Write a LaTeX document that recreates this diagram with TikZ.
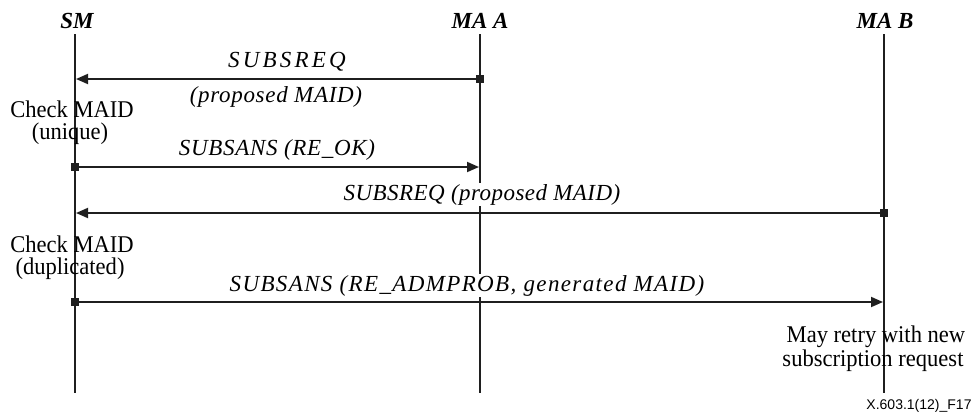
\documentclass[tikz,border=0pt]{standalone}
\usepackage{fontspec}
\setmainfont{Liberation Serif}
\newfontfamily\notefont[FakeStretch=0.94]{Liberation Serif}
\newfontfamily\figsans{Liberation Sans}
\usetikzlibrary{arrows.meta}
\newcommand{\lsp}[2]{{\addfontfeature{LetterSpace=#1}#2}}
\begin{document}
\begin{tikzpicture}[x=1pt,y=-1pt,
  life/.style={line width=2pt,draw=black!88},
  msg/.style={line width=1.8pt,draw=black!88,-{Triangle[length=12pt,width=10pt]}},
  sq/.style={fill=black!88,minimum size=8pt,inner sep=0pt,draw=none,rectangle},
  hdr/.style={font=\fontsize{23}{25}\selectfont\bfseries\itshape,anchor=base,inner sep=0pt},
  lbl/.style={font=\fontsize{23}{25}\selectfont\itshape,anchor=base,inner sep=0pt},
  note/.style={font=\notefont\fontsize{24}{26}\selectfont,anchor=base,inner sep=0pt},
  tag/.style={font=\figsans\fontsize{14}{16}\selectfont,anchor=base,inner sep=0pt},
]
\useasboundingbox (0,0) rectangle (979,413);
% headers
\node[hdr] (hSM) at (77,28) {SM};
\node[hdr] (hA) at (480,28) {MA A};
\node[hdr] (hB) at (885,28) {MA B};
% lifelines
\coordinate (smT) at (75,34);  \coordinate (smB) at (75,393);
\coordinate (aT) at (480,34);  \coordinate (aB) at (480,393);
\coordinate (bT) at (884,34);  \coordinate (bB) at (884,393);
\draw[life] (smT) -- (smB);
\draw[life] (aT) -- (aB);
\draw[life] (bT) -- (bB);
% labels
\node[lbl] (l1a) at (287,67) {\lsp{14}{SUBSREQ}};
\node[lbl] (l1b) at (276,102) {\lsp{3}{(proposed MAID)}};
\node[note] (c1a) at (72,117) {Check MAID};
\node[note] (c1b) at (70,139) {(unique)};
\node[lbl] (l2) at (277,155) {\lsp{3}{SUBSANS (RE\_OK)}};
\node[lbl,fill=white,inner sep=1pt] (l3) at (482,200) {\lsp{2}{SUBSREQ (proposed MAID)}};
\node[note] (c2a) at (72,252) {Check MAID};
\node[note] (c2b) at (70,274) {(duplicated)};
\node[lbl,fill=white,inner sep=1pt] (l4) at (467,291) {\lsp{6}{SUBSANS (RE\_ADMPROB, generated MAID)}};
\node[note] (r1) at (876,342) {May retry with new};
\node[note] (r2) at (873,366) {subscription request};
\node[tag] (fig) at (919,409) {X.603.1(12)\_F17};
% messages
\node[sq] (s1) at (480,79) {};
\coordinate (e1) at (76,79);
\draw[msg] (s1.center) -- (e1);
\node[sq] (s2) at (75,167) {};
\coordinate (e2) at (479,167);
\draw[msg] (s2.center) -- (e2);
\node[sq] (s3) at (884,213) {};
\coordinate (e3) at (76,213);
\draw[msg] (s3.center) -- (e3);
\node[sq] (s4) at (75,302) {};
\coordinate (e4) at (883,302);
\draw[msg] (s4.center) -- (e4);
\end{tikzpicture}
\end{document}
